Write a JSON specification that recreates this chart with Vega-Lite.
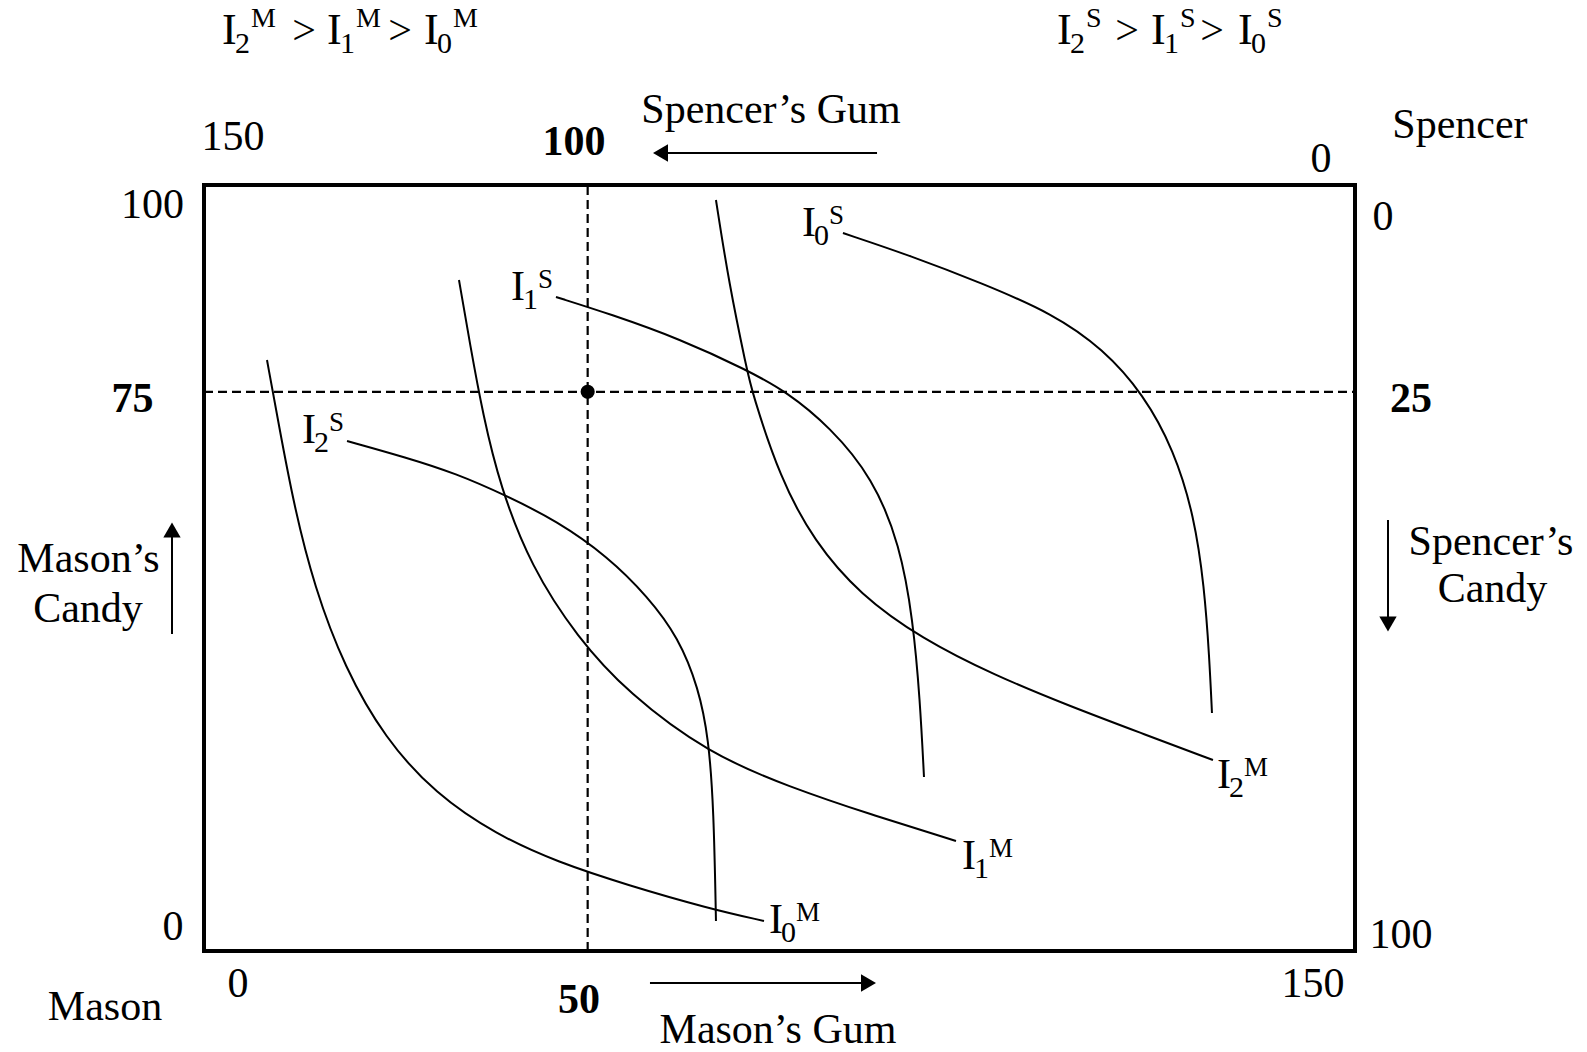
{
  "$schema": "https://vega.github.io/schema/vega-lite/v6.json",
  "width": 1151,
  "height": 766,
  "autosize": {"type": "none"},
  "padding": {"left": 204, "top": 185, "right": 232, "bottom": 101},
  "background": "white",
  "config": {"view": {"stroke": "black", "strokeWidth": 4}},
  "datasets": {
    "guides": [
      {"x": 0, "x2": 150, "y": 73, "y2": 73},
      {"x": 50, "x2": 50, "y": 0, "y2": 100}
    ],
    "dot": [{"x": 50, "y": 73}],
    "shafts": [
      {"x": 59.49, "x2": 87.71, "y": 104.18, "y2": 104.18},
      {"x": 58.12, "x2": 86.6, "y": -4.18, "y2": -4.18},
      {"x": -4.17, "x2": -4.17, "y": 41.38, "y2": 54.96},
      {"x": 154.3, "x2": 154.3, "y": 56.27, "y2": 42.69}
    ],
    "heads": [
      {"x": 59.49, "y": 104.18, "shape": "triangle-left"},
      {"x": 86.6, "y": -4.18, "shape": "triangle-right"},
      {"x": -4.17, "y": 54.96, "shape": "triangle-up"},
      {"x": 154.3, "y": 42.69, "shape": "triangle-down"}
    ],
    "curves": [
      {"c": "I0M", "i": 0, "x": 8.21, "y": 77.15},
      {"c": "I0M", "i": 1, "x": 9.75, "y": 68.69},
      {"c": "I0M", "i": 2, "x": 11.73, "y": 58.12},
      {"c": "I0M", "i": 3, "x": 14.37, "y": 47.56},
      {"c": "I0M", "i": 4, "x": 18.32, "y": 36.99},
      {"c": "I0M", "i": 5, "x": 23.59, "y": 27.74},
      {"c": "I0M", "i": 6, "x": 30.18, "y": 20.48},
      {"c": "I0M", "i": 7, "x": 38.09, "y": 15.19},
      {"c": "I0M", "i": 8, "x": 46.0, "y": 11.62},
      {"c": "I0M", "i": 9, "x": 55.23, "y": 8.59},
      {"c": "I0M", "i": 10, "x": 65.77, "y": 5.55},
      {"c": "I0M", "i": 11, "x": 72.98, "y": 3.92},

      {"c": "I1M", "i": 0, "x": 33.23, "y": 87.6},
      {"c": "I1M", "i": 1, "x": 34.66, "y": 79.24},
      {"c": "I1M", "i": 2, "x": 36.36, "y": 69.97},
      {"c": "I1M", "i": 3, "x": 38.58, "y": 60.7},
      {"c": "I1M", "i": 4, "x": 42.6, "y": 50.2},
      {"c": "I1M", "i": 5, "x": 48.64, "y": 40.95},
      {"c": "I1M", "i": 6, "x": 55.23, "y": 33.69},
      {"c": "I1M", "i": 7, "x": 65.77, "y": 25.76},
      {"c": "I1M", "i": 8, "x": 76.32, "y": 21.4},
      {"c": "I1M", "i": 9, "x": 86.86, "y": 17.83},
      {"c": "I1M", "i": 10, "x": 98.0, "y": 14.36},

      {"c": "I2M", "i": 0, "x": 66.72, "y": 98.04},
      {"c": "I2M", "i": 1, "x": 68.41, "y": 87.19},
      {"c": "I2M", "i": 2, "x": 70.76, "y": 75.85},
      {"c": "I2M", "i": 3, "x": 71.42, "y": 72.98},
      {"c": "I2M", "i": 4, "x": 75.06, "y": 61.75},
      {"c": "I2M", "i": 5, "x": 79.5, "y": 53.5},
      {"c": "I2M", "i": 6, "x": 85.5, "y": 46.5},
      {"c": "I2M", "i": 7, "x": 93.5, "y": 40.8},
      {"c": "I2M", "i": 8, "x": 103.0, "y": 36.0},
      {"c": "I2M", "i": 9, "x": 113.0, "y": 31.9},
      {"c": "I2M", "i": 10, "x": 122.0, "y": 28.5},
      {"c": "I2M", "i": 11, "x": 131.49, "y": 24.93},

      {"c": "I0S", "i": 0, "x": 83.27, "y": 93.73},
      {"c": "I0S", "i": 1, "x": 92.14, "y": 90.75},
      {"c": "I0S", "i": 2, "x": 101.36, "y": 87.19},
      {"c": "I0S", "i": 3, "x": 110.59, "y": 83.22},
      {"c": "I0S", "i": 4, "x": 117.18, "y": 78.6},
      {"c": "I0S", "i": 5, "x": 122.45, "y": 72.66},
      {"c": "I0S", "i": 6, "x": 126.41, "y": 65.39},
      {"c": "I0S", "i": 7, "x": 129.04, "y": 56.8},
      {"c": "I0S", "i": 8, "x": 130.36, "y": 47.56},
      {"c": "I0S", "i": 9, "x": 131.02, "y": 38.31},
      {"c": "I0S", "i": 10, "x": 131.36, "y": 31.07},

      {"c": "I1S", "i": 0, "x": 45.87, "y": 85.38},
      {"c": "I1S", "i": 1, "x": 52.91, "y": 83.16},
      {"c": "I1S", "i": 2, "x": 62.03, "y": 79.9},
      {"c": "I1S", "i": 3, "x": 70.76, "y": 75.85},
      {"c": "I1S", "i": 4, "x": 75.98, "y": 72.98},
      {"c": "I1S", "i": 5, "x": 81.58, "y": 68.41},
      {"c": "I1S", "i": 6, "x": 87.18, "y": 61.75},
      {"c": "I1S", "i": 7, "x": 90.7, "y": 53.0},
      {"c": "I1S", "i": 8, "x": 92.4, "y": 43.21},
      {"c": "I1S", "i": 9, "x": 93.31, "y": 32.77},
      {"c": "I1S", "i": 10, "x": 93.83, "y": 22.72},

      {"c": "I2S", "i": 0, "x": 18.64, "y": 66.58},
      {"c": "I2S", "i": 1, "x": 26.23, "y": 64.46},
      {"c": "I2S", "i": 2, "x": 32.82, "y": 62.35},
      {"c": "I2S", "i": 3, "x": 39.41, "y": 59.44},
      {"c": "I2S", "i": 4, "x": 46.0, "y": 56.14},
      {"c": "I2S", "i": 5, "x": 52.59, "y": 51.52},
      {"c": "I2S", "i": 6, "x": 57.86, "y": 46.24},
      {"c": "I2S", "i": 7, "x": 61.82, "y": 40.95},
      {"c": "I2S", "i": 8, "x": 64.45, "y": 34.35},
      {"c": "I2S", "i": 9, "x": 65.77, "y": 27.74},
      {"c": "I2S", "i": 10, "x": 66.43, "y": 18.49},
      {"c": "I2S", "i": 11, "x": 66.72, "y": 3.92}
    ],
    "texts": [
      {"x": 3.78, "y": 104.58, "text": "150"},
      {"x": 73.89, "y": 108.09, "text": "Spencer’s Gum"},
      {"x": 163.68, "y": 106.14, "text": "Spencer"},
      {"x": 145.57, "y": 101.7, "text": "0"},
      {"x": 153.65, "y": 94.13, "text": "0"},
      {"x": -6.71, "y": 95.69, "text": "100"},
      {"x": -4.04, "y": 1.44, "text": "0"},
      {"x": -15.05, "y": 49.48, "text": "Mason’s"},
      {"x": -15.12, "y": 42.95, "text": "Candy"},
      {"x": 167.72, "y": 51.7, "text": "Spencer’s"},
      {"x": 167.92, "y": 45.56, "text": "Candy"},
      {"x": 156.0, "y": 0.39, "text": "100"},
      {"x": 144.53, "y": -6.01, "text": "150"},
      {"x": 4.43, "y": -6.01, "text": "0"},
      {"x": -12.9, "y": -9.01, "text": "Mason"},
      {"x": 74.8, "y": -12.0, "text": "Mason’s Gum"},
      {"x": 13.03, "y": 118.41, "text": ">"},
      {"x": 25.54, "y": 118.41, "text": ">"},
      {"x": 120.29, "y": 118.41, "text": ">"},
      {"x": 131.36, "y": 118.41, "text": ">"}
    ],
    "boldTexts": [
      {"x": 48.22, "y": 103.92, "text": "100"},
      {"x": -9.32, "y": 70.37, "text": "75"},
      {"x": 157.3, "y": 70.37, "text": "25"},
      {"x": 48.87, "y": -8.09, "text": "50"}
    ],
    "labels": [
      {"x": 77.93, "y": 93.34, "sub": "0", "sup": "S"},
      {"x": 40.01, "y": 84.99, "sub": "1", "sup": "S"},
      {"x": 12.77, "y": 66.32, "sub": "2", "sup": "S"},
      {"x": 73.63, "y": 2.35, "sub": "0", "sup": "M"},
      {"x": 98.78, "y": 10.7, "sub": "1", "sup": "M"},
      {"x": 132.02, "y": 21.28, "sub": "2", "sup": "M"}
    ],
    "headers": [
      {"x": 2.35, "y": 118.41, "sub": "2", "sup": "M"},
      {"x": 16.03, "y": 118.41, "sub": "1", "sup": "M"},
      {"x": 28.67, "y": 118.41, "sub": "0", "sup": "M"},
      {"x": 111.16, "y": 118.41, "sub": "2", "sup": "S"},
      {"x": 123.41, "y": 118.41, "sub": "1", "sup": "S"},
      {"x": 134.75, "y": 118.41, "sub": "0", "sup": "S"}
    ]
  },
  "layer": [
    {
      "data": {"name": "guides"},
      "mark": {"type": "rule", "color": "black", "strokeWidth": 2.2, "strokeDash": [9, 5]},
      "encoding": {
        "x": {"field": "x", "type": "quantitative", "scale": {"domain": [0, 150], "nice": false, "zero": false}, "axis": null},
        "x2": {"field": "x2"},
        "y": {"field": "y", "type": "quantitative", "scale": {"domain": [0, 100], "nice": false, "zero": false}, "axis": null},
        "y2": {"field": "y2"}
      }
    },
    {
      "data": {"name": "curves"},
      "mark": {"type": "line", "color": "black", "strokeWidth": 2, "interpolate": "basis"},
      "encoding": {
        "x": {"field": "x", "type": "quantitative", "scale": {"domain": [0, 150], "nice": false, "zero": false}, "axis": null},
        "y": {"field": "y", "type": "quantitative", "scale": {"domain": [0, 100], "nice": false, "zero": false}, "axis": null},
        "detail": {"field": "c"},
        "order": {"field": "i", "type": "quantitative"}
      }
    },
    {
      "data": {"name": "dot"},
      "mark": {"type": "point", "filled": true, "color": "black", "size": 200, "opacity": 1},
      "encoding": {
        "x": {"field": "x", "type": "quantitative", "scale": {"domain": [0, 150], "nice": false, "zero": false}, "axis": null},
        "y": {"field": "y", "type": "quantitative", "scale": {"domain": [0, 100], "nice": false, "zero": false}, "axis": null}
      }
    },
    {
      "data": {"name": "shafts"},
      "mark": {"type": "rule", "color": "black", "strokeWidth": 2},
      "encoding": {
        "x": {"field": "x", "type": "quantitative", "scale": {"domain": [0, 150], "nice": false, "zero": false}, "axis": null},
        "x2": {"field": "x2"},
        "y": {"field": "y", "type": "quantitative", "scale": {"domain": [0, 100], "nice": false, "zero": false}, "axis": null},
        "y2": {"field": "y2"}
      }
    },
    {
      "data": {"name": "heads"},
      "mark": {"type": "point", "filled": true, "color": "black", "size": 300, "opacity": 1},
      "encoding": {
        "x": {"field": "x", "type": "quantitative", "scale": {"domain": [0, 150], "nice": false, "zero": false}, "axis": null},
        "y": {"field": "y", "type": "quantitative", "scale": {"domain": [0, 100], "nice": false, "zero": false}, "axis": null},
        "shape": {"field": "shape", "type": "nominal", "scale": null}
      }
    },
    {
      "data": {"name": "texts"},
      "mark": {"type": "text", "font": "Liberation Serif", "fontSize": 42, "align": "center", "baseline": "alphabetic", "color": "black"},
      "encoding": {
        "x": {"field": "x", "type": "quantitative", "scale": {"domain": [0, 150], "nice": false, "zero": false}, "axis": null},
        "y": {"field": "y", "type": "quantitative", "scale": {"domain": [0, 100], "nice": false, "zero": false}, "axis": null},
        "text": {"field": "text"}
      }
    },
    {
      "data": {"name": "boldTexts"},
      "mark": {"type": "text", "font": "Liberation Serif", "fontSize": 42, "fontWeight": "bold", "align": "center", "baseline": "alphabetic", "color": "black"},
      "encoding": {
        "x": {"field": "x", "type": "quantitative", "scale": {"domain": [0, 150], "nice": false, "zero": false}, "axis": null},
        "y": {"field": "y", "type": "quantitative", "scale": {"domain": [0, 100], "nice": false, "zero": false}, "axis": null},
        "text": {"field": "text"}
      }
    },
    {
      "data": {"name": "labels"},
      "mark": {"type": "text", "font": "Liberation Serif", "fontSize": 42, "align": "left", "baseline": "alphabetic", "color": "black"},
      "encoding": {
        "x": {"field": "x", "type": "quantitative", "scale": {"domain": [0, 150], "nice": false, "zero": false}, "axis": null},
        "y": {"field": "y", "type": "quantitative", "scale": {"domain": [0, 100], "nice": false, "zero": false}, "axis": null},
        "text": {"value": "I"}
      }
    },
    {
      "data": {"name": "labels"},
      "mark": {"type": "text", "font": "Liberation Serif", "fontSize": 30, "align": "left", "baseline": "alphabetic", "color": "black", "dx": 12, "dy": 9},
      "encoding": {
        "x": {"field": "x", "type": "quantitative", "scale": {"domain": [0, 150], "nice": false, "zero": false}, "axis": null},
        "y": {"field": "y", "type": "quantitative", "scale": {"domain": [0, 100], "nice": false, "zero": false}, "axis": null},
        "text": {"field": "sub"}
      }
    },
    {
      "data": {"name": "labels"},
      "mark": {"type": "text", "font": "Liberation Serif", "fontSize": 27, "align": "left", "baseline": "alphabetic", "color": "black", "dx": 27, "dy": -12},
      "encoding": {
        "x": {"field": "x", "type": "quantitative", "scale": {"domain": [0, 150], "nice": false, "zero": false}, "axis": null},
        "y": {"field": "y", "type": "quantitative", "scale": {"domain": [0, 100], "nice": false, "zero": false}, "axis": null},
        "text": {"field": "sup"}
      }
    },
    {
      "data": {"name": "headers"},
      "mark": {"type": "text", "font": "Liberation Serif", "fontSize": 44, "align": "left", "baseline": "alphabetic", "color": "black"},
      "encoding": {
        "x": {"field": "x", "type": "quantitative", "scale": {"domain": [0, 150], "nice": false, "zero": false}, "axis": null},
        "y": {"field": "y", "type": "quantitative", "scale": {"domain": [0, 100], "nice": false, "zero": false}, "axis": null},
        "text": {"value": "I"}
      }
    },
    {
      "data": {"name": "headers"},
      "mark": {"type": "text", "font": "Liberation Serif", "fontSize": 30, "align": "left", "baseline": "alphabetic", "color": "black", "dx": 13, "dy": 9},
      "encoding": {
        "x": {"field": "x", "type": "quantitative", "scale": {"domain": [0, 150], "nice": false, "zero": false}, "axis": null},
        "y": {"field": "y", "type": "quantitative", "scale": {"domain": [0, 100], "nice": false, "zero": false}, "axis": null},
        "text": {"field": "sub"}
      }
    },
    {
      "data": {"name": "headers"},
      "mark": {"type": "text", "font": "Liberation Serif", "fontSize": 28, "align": "left", "baseline": "alphabetic", "color": "black", "dx": 29, "dy": -17},
      "encoding": {
        "x": {"field": "x", "type": "quantitative", "scale": {"domain": [0, 150], "nice": false, "zero": false}, "axis": null},
        "y": {"field": "y", "type": "quantitative", "scale": {"domain": [0, 100], "nice": false, "zero": false}, "axis": null},
        "text": {"field": "sup"}
      }
    }
  ]
}
